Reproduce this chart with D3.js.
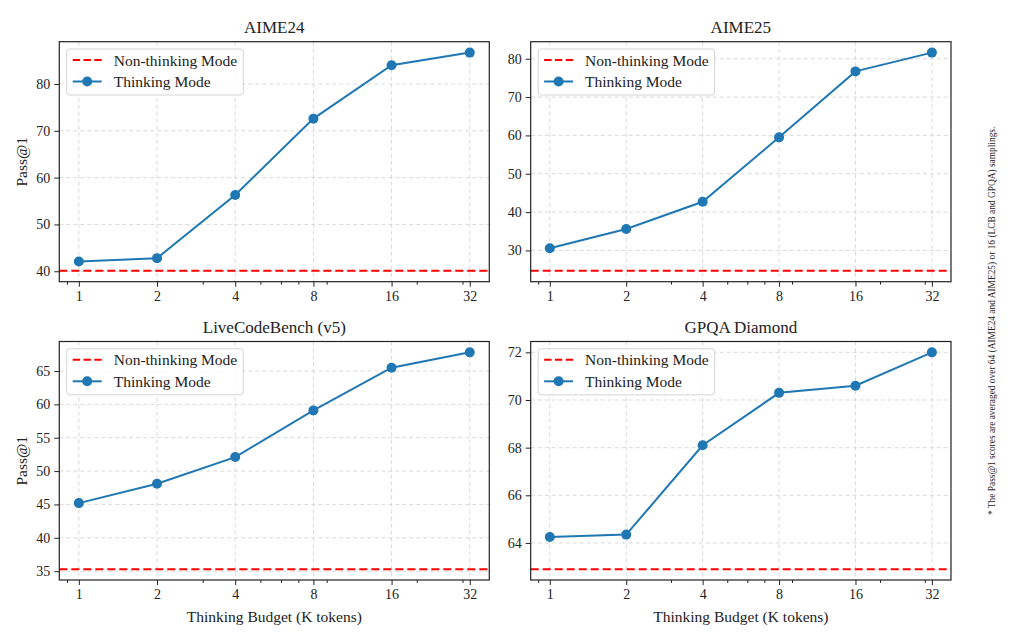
<!DOCTYPE html>
<html>
<head>
<meta charset="utf-8">
<script src="https://cdn.jsdelivr.net/npm/d3@7"></script>
<style>
  body { margin: 0; background: #fff; }
  text { font-family: "Liberation Serif", "Times New Roman", serif; fill: #222; }
</style>
</head>
<body>
<div id="chart"></div>
<script>
// DATA -------------------------------------------------------------------
const budgets = [1, 2, 4, 8, 16, 32];
const minorBudgets = [0.9, 3, 5, 6, 7, 9, 20, 30];

const titles = ['AIME24', 'AIME25', 'LiveCodeBench (v5)', 'GPQA Diamond'];

const aime24Thinking = [42.1, 42.8, 56.3, 72.6, 84.0, 86.7];
const aime25Thinking = [30.6, 35.6, 42.7, 59.5, 76.7, 81.6];
const lcbThinking = [45.2, 48.1, 52.1, 59.1, 65.5, 67.8];
const gpqaThinking = [64.25, 64.35, 68.1, 70.3, 70.6, 72.0];

const nonThinking = [40.1, 24.7, 35.3, 62.9];

const aime24Ticks = [40, 50, 60, 70, 80];
const aime25Ticks = [30, 40, 50, 60, 70, 80];
const lcbTicks = [35, 40, 45, 50, 55, 60, 65];
const gpqaTicks = [64, 66, 68, 70, 72];

const legendLabels = ['Non-thinking Mode', 'Thinking Mode'];
const footnote = '* The Pass@1 scores are averaged over 64 (AIME24 and AIME25) or 16 (LCB and GPQA) samplings.';

// CHART INIT -------------------------------------------------------------
const W = 1025, H = 642;
const blue = '#1f77b4', red = '#ff0000';

const svg = d3.select('#chart')
  .append('svg')
  .attr('width', W)
  .attr('height', H);

// panel boxes (left, top, right, bottom)
const panels = [
  {box: [59.3, 41.7, 489.3, 281.7], values: aime24Thinking, ticks: aime24Ticks, ylabel: true, xlabel: false},
  {box: [530.7, 41.7, 951, 281.7], values: aime25Thinking, ticks: aime25Ticks, ylabel: false, xlabel: false},
  {box: [59.3, 341.5, 489.3, 580], values: lcbThinking, ticks: lcbTicks, ylabel: true, xlabel: true},
  {box: [530.7, 341.5, 951, 580], values: gpqaThinking, ticks: gpqaTicks, ylabel: false, xlabel: true}
];

function drawPanel(p, i) {
  const [x0, y0, x1, y1] = p.box;
  const g = svg.append('g');

  // scales: log2 x with 0.25 decade margin, y padded 5%
  const xScale = d3.scaleLog().base(2)
    .domain([Math.pow(2, -0.25), Math.pow(2, 5.25)])
    .range([x0, x1]);

  const ext = d3.extent(p.values.concat([nonThinking[i]]));
  const pad = (ext[1] - ext[0]) * 0.05;
  const yScale = d3.scaleLinear()
    .domain([ext[0] - pad, ext[1] + pad])
    .range([y1, y0]);

  // grid
  const grid = g.append('g')
    .attr('stroke', '#d0d0d0')
    .attr('stroke-width', 0.8)
    .attr('stroke-dasharray', '4,3');
  grid.selectAll('.gx').data(budgets).enter().append('line')
    .attr('x1', d => xScale(d)).attr('x2', d => xScale(d))
    .attr('y1', y0).attr('y2', y1);
  grid.selectAll('.gy').data(p.ticks).enter().append('line')
    .attr('x1', x0).attr('x2', x1)
    .attr('y1', d => yScale(d)).attr('y2', d => yScale(d));

  // axes
  const xAxis = d3.axisBottom(xScale)
    .tickValues(budgets)
    .tickFormat(d3.format('d'))
    .tickSize(5).tickPadding(4);
  const xMinor = d3.axisBottom(xScale)
    .tickValues(minorBudgets)
    .tickFormat('')
    .tickSize(3);
  const yAxis = d3.axisLeft(yScale)
    .tickValues(p.ticks)
    .tickSize(5).tickPadding(4);

  const ax = g.append('g').attr('transform', 'translate(0,' + y1 + ')').call(xAxis);
  const axm = g.append('g').attr('transform', 'translate(0,' + y1 + ')').call(xMinor);
  const ay = g.append('g').attr('transform', 'translate(' + x0 + ',0)').call(yAxis);
  [ax, axm, ay].forEach(a => {
    a.select('.domain').remove();
    a.selectAll('line').attr('stroke', '#222').attr('stroke-width', 1);
    a.selectAll('text').attr('font-size', 14).attr('font-family', null).attr('fill', '#222');
  });

  // baseline (non-thinking)
  g.append('line')
    .attr('x1', x0).attr('x2', x1)
    .attr('y1', yScale(nonThinking[i])).attr('y2', yScale(nonThinking[i]))
    .attr('stroke', red).attr('stroke-width', 2)
    .attr('stroke-dasharray', '8,4');

  // thinking line
  const line = d3.line()
    .x((d, j) => xScale(budgets[j]))
    .y(d => yScale(d));
  g.append('path')
    .datum(p.values)
    .attr('d', line)
    .attr('fill', 'none')
    .attr('stroke', blue)
    .attr('stroke-width', 2);
  g.selectAll('.dot').data(p.values).enter().append('circle')
    .attr('cx', (d, j) => xScale(budgets[j]))
    .attr('cy', d => yScale(d))
    .attr('r', 5)
    .attr('fill', blue);

  // frame
  g.append('rect')
    .attr('x', x0).attr('y', y0)
    .attr('width', x1 - x0).attr('height', y1 - y0)
    .attr('fill', 'none').attr('stroke', '#222').attr('stroke-width', 1.2);

  // title
  g.append('text')
    .attr('x', (x0 + x1) / 2).attr('y', y0 - 8.5)
    .attr('text-anchor', 'middle')
    .attr('font-size', 17)
    .text(titles[i]);

  if (p.ylabel) {
    g.append('text')
      .attr('transform', 'translate(27,' + ((y0 + y1) / 2) + ') rotate(-90)')
      .attr('text-anchor', 'middle')
      .attr('font-size', 15.5)
      .text('Pass@1');
  }
  if (p.xlabel) {
    g.append('text')
      .attr('x', (x0 + x1) / 2).attr('y', y1 + 41.5)
      .attr('text-anchor', 'middle')
      .attr('font-size', 15.5)
      .text('Thinking Budget (K tokens)');
  }

  // legend
  const lx = x0 + 7.4, ly = y0 + 7.3;
  const leg = g.append('g');
  const box = leg.append('rect')
    .attr('x', lx).attr('y', ly)
    .attr('height', 46)
    .attr('rx', 3)
    .attr('fill', '#fff').attr('fill-opacity', 0.85)
    .attr('stroke', '#d4d4d4').attr('stroke-width', 1);
  leg.append('line')
    .attr('x1', lx + 6).attr('x2', lx + 35)
    .attr('y1', ly + 11).attr('y2', ly + 11)
    .attr('stroke', red).attr('stroke-width', 2)
    .attr('stroke-dasharray', '7.4,3.4');
  leg.append('line')
    .attr('x1', lx + 6).attr('x2', lx + 35)
    .attr('y1', ly + 32.5).attr('y2', ly + 32.5)
    .attr('stroke', blue).attr('stroke-width', 2);
  leg.append('circle')
    .attr('cx', lx + 20.5).attr('cy', ly + 32.5).attr('r', 5)
    .attr('fill', blue);
  const t = leg.selectAll('.lt').data(legendLabels).enter().append('text')
    .attr('x', lx + 47)
    .attr('y', (d, j) => ly + 16.5 + j * 21.5)
    .attr('font-size', 15.5)
    .text(d => d);
  const tw = d3.max(t.nodes(), n => n.getComputedTextLength());
  box.attr('width', 47 + tw + 6);
}

panels.forEach(drawPanel);

// footnote (rotated, right margin)
svg.append('text')
  .attr('transform', 'translate(995,515) rotate(-90)')
  .attr('font-size', 9.4)
  .text(footnote);
</script>
</body>
</html>
